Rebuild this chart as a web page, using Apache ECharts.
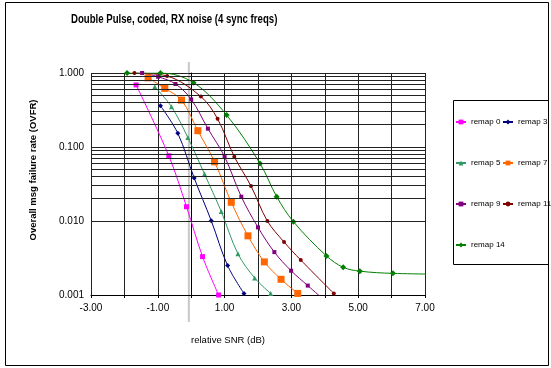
<!DOCTYPE html>
<html lang="en">

<head>
    <meta charset="UTF-8">
    <title>Double Pulse</title>
    <script src="https://cdnjs.cloudflare.com/ajax/libs/echarts/6.0.0/echarts.min.js"></script>
    <style>
        html, body { margin: 0; padding: 0; background: #fff; }
        #main { width: 551px; height: 368px; }
    </style>
</head>

<body>
    <div id="main"></div>
    <script>
        // data: [relative SNR, OVFR]
        const remap0 = [[-1.65, 0.69], [-0.67, 0.076], [-0.14, 0.0156], [0.34, 0.0033], [0.82, 0.001]];
        const remap3 = [[-0.92, 0.36], [-0.40, 0.153], [0.09, 0.038], [0.60, 0.0101], [1.09, 0.0025], [1.58, 0.00105]];
        const remap5 = [[-1.09, 0.65], [-0.59, 0.35], [-0.10, 0.134], [0.40, 0.043], [0.90, 0.0134], [1.40, 0.0036], [1.90, 0.0017], [2.38, 0.00105]];
        const remap7 = [[-1.29, 0.86], [-0.79, 0.62], [-0.29, 0.43], [0.20, 0.166], [0.70, 0.063], [1.20, 0.0179], [1.70, 0.0063], [2.19, 0.0028], [2.69, 0.00163], [3.19, 0.00105]];
        const remap9 = [[-1.47, 1.0], [-0.99, 0.89], [-0.47, 0.71], [0.0, 0.44], [0.50, 0.177], [1.0, 0.074], [1.50, 0.0213], [2.0, 0.0082], [2.49, 0.0038], [2.99, 0.00213], [3.49, 0.00134], [3.99, 0.00085]];
        const remap11 = [[-1.70, 1.0], [-0.72, 0.91], [0.29, 0.48], [0.79, 0.24], [1.29, 0.074], [1.79, 0.0297], [2.28, 0.0100], [2.78, 0.0052], [3.28, 0.00297], [4.27, 0.00105]];
        const remap14 = [[-1.92, 1.0], [-0.92, 1.0], [0.07, 0.74], [1.06, 0.27], [2.06, 0.060], [2.56, 0.0213], [3.06, 0.0098], [4.05, 0.00337], [4.55, 0.00237], [5.05, 0.0021], [6.04, 0.00196], [8.0, 0.0019]];

        const xTickLabels = ['-3.00', '-1.00', '1.00', '3.00', '5.00', '7.00'];
        const yTickLabels = ['0.001', '0.010', '0.100', '1.000'];
        const minorTicks = [0.002, 0.003, 0.004, 0.005, 0.006, 0.007, 0.008, 0.009,
            0.02, 0.03, 0.04, 0.05, 0.06, 0.07, 0.08, 0.09,
            0.2, 0.3, 0.4, 0.5, 0.6, 0.7, 0.8, 0.9];
        const grayLineX = -0.07;

        const font = "'Liberation Sans', Arial, sans-serif";

        const chart = echarts.init(document.getElementById('main'));

        function mkSeries(name, data, color, symbol, size) {
            return {
                name: name,
                type: 'line',
                data: data,
                smooth: 0.35,
                symbol: symbol,
                symbolSize: size,
                clip: true,
                lineStyle: { color: color, width: 1 },
                itemStyle: { color: color },
                z: 3
            };
        }

        const legendText = { fontFamily: font, fontSize: 8, lineHeight: 12, color: '#000' };

        const option = {
            animation: false,
            legend: [
                {
                    data: ['remap 0', 'remap 5', 'remap 9', 'remap 14'],
                    orient: 'vertical',
                    left: 455, top: 116, padding: 0,
                    itemGap: 29, itemWidth: 10, itemHeight: 6,
                    textStyle: legendText
                },
                {
                    data: ['remap 3', 'remap 7', 'remap 11'],
                    orient: 'vertical',
                    left: 502, top: 116, padding: 0,
                    itemGap: 29, itemWidth: 10, itemHeight: 6,
                    textStyle: legendText
                }
            ],
            grid: { left: 91, right: 126, top: 73, bottom: 73 },
            xAxis: {
                type: 'value',
                min: -3, max: 7, interval: 1,
                name: 'relative SNR (dB)',
                nameLocation: 'middle',
                nameGap: 40,
                nameTextStyle: { fontFamily: font, fontSize: 9.5, color: '#000', padding: [0, 60, 0, 0] },
                axisLine: { lineStyle: { color: '#000' } },
                axisTick: { show: true, length: 3, lineStyle: { color: '#000' } },
                axisLabel: {
                    fontFamily: font, fontSize: 10, color: '#000', margin: 8,
                    formatter: v => {
                        const i = Math.round((v + 3) / 2);
                        return Math.round(v + 3) % 2 === 0 ? xTickLabels[i] : '';
                    }
                },
                splitLine: { show: true, lineStyle: { color: '#222', width: 1 } }
            },
            yAxis: {
                type: 'log',
                logBase: 10,
                min: 0.001, max: 1,
                name: 'Overall msg failure rate (OVFR)',
                nameLocation: 'middle',
                nameGap: 53,
                nameTextStyle: { fontFamily: font, fontSize: 9.5, fontWeight: 'bold', color: '#000', padding: [0, 0, 0, 28] },
                axisLine: { show: true, lineStyle: { color: '#000' } },
                axisTick: { show: true, length: 3, lineStyle: { color: '#000' } },
                axisLabel: {
                    fontFamily: font, fontSize: 10, color: '#000', margin: 7,
                    formatter: v => yTickLabels[Math.round(Math.log10(v)) + 3]
                },
                splitLine: { show: true, lineStyle: { color: '#222', width: 1 } }
            },
            series: [
                {
                    name: 'grid',
                    type: 'line',
                    data: [],
                    z: 1,
                    markLine: {
                        silent: true,
                        symbol: 'none',
                        label: { show: false },
                        lineStyle: { color: '#222', width: 1, type: 'solid' },
                        data: minorTicks.map(v => ({ yAxis: v }))
                    }
                },
                mkSeries('remap 0', remap0, '#FF00FF', 'rect', 5),
                mkSeries('remap 3', remap3, '#000080', 'diamond', 5),
                mkSeries('remap 5', remap5, '#339966', 'triangle', 5),
                mkSeries('remap 7', remap7, '#FF6600', 'rect', 7),
                mkSeries('remap 9', remap9, '#800080', 'rect', 4),
                mkSeries('remap 11', remap11, '#800000', 'circle', 4),
                mkSeries('remap 14', remap14, '#008000', 'diamond', 6)
            ]
        };

        chart.setOption(option);

        // title (squeezed like the original), frame, legend box and the light grey marker line
        const gx = chart.convertToPixel({ xAxisIndex: 0 }, grayLineX);
        chart.setOption({
            graphic: [
                {
                    type: 'text', x: 71, y: 13, scaleX: 0.74,
                    style: { text: 'Double Pulse, coded, RX noise (4 sync freqs)', font: "bold 13px 'Liberation Sans', Arial, sans-serif", fill: '#000' }
                },
                { type: 'rect', shape: { x: 5.5, y: 2.5, width: 543, height: 363 }, style: { fill: 'none', stroke: '#000', lineWidth: 1 }, silent: true },
                { type: 'rect', shape: { x: 453.5, y: 100.5, width: 95, height: 164 }, style: { fill: 'none', stroke: '#000', lineWidth: 1 }, silent: true },
                { type: 'line', shape: { x1: gx, y1: 62, x2: gx, y2: 322 }, style: { stroke: '#c8c8c8', lineWidth: 2 }, silent: true, z: 0 }
            ]
        });
    </script>
</body>

</html>
